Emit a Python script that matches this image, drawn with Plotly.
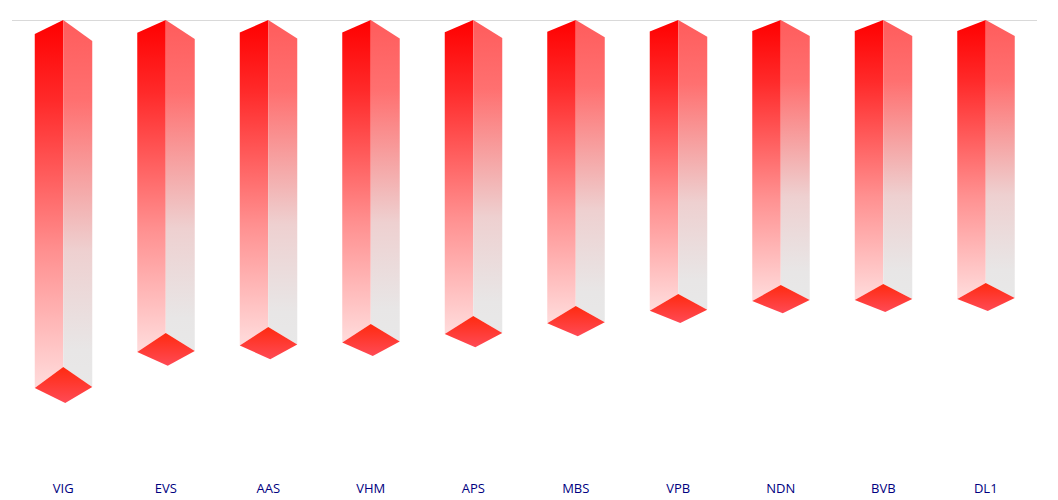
import plotly.graph_objects as go

tickers = ["VIG", "EVS", "AAS", "VHM", "APS", "MBS", "VPB", "NDN", "BVB", "DL1"]
values = [-347, -313, -307, -304, -296, -286, -274, -265, -264, -263]

# axis is 1 unit per pixel in y, so offsets below are in y units
X_UNIT = 102.5
HALF_L = 28.5 / X_UNIT
HALF_R = 29 / X_UNIT
TIP_X = 2 / X_UNIT

# colorscale runs from the low end of the axis (bar bottom) to the top
left_scale = [[0, "#ffdcdc"], [0.37, "#ff9090"], [0.78, "#ff2a2a"], [1, "#ff0000"]]
right_scale = [[0, "#e8e8e8"], [0.1, "#e8e6e6"], [0.37, "#eed0d0"], [0.78, "#ff7070"], [1, "#ff5c5c"]]
floor_scale = [[0, "#ff4a55"], [1, "#ff2a10"]]


def depth(v, small, big):
    # deeper bars are drawn with slightly bigger perspective offsets
    t = (abs(v) - 263) / 84
    return small + (big - small) * t


def face(xs, ys, scale):
    return go.Scatter(
        x=xs, y=ys, mode="lines", fill="toself", line=dict(width=0),
        fillgradient=dict(type="vertical", colorscale=scale),
        hoverinfo="skip", showlegend=False,
    )


fig = go.Figure()
for i, v in enumerate(values):
    top_l, top_r = depth(v, 11, 14), depth(v, 16, 21)
    low_l, low_r = depth(v, 16, 21), depth(v, 15, 20)
    tip = depth(v, 28, 36)
    xl, xr = i - HALF_L, i + HALF_R
    fig.add_trace(face([i, xl, xl, i, i], [0, -top_l, v - low_l, v, 0], left_scale))
    fig.add_trace(face([i, xr, xr, i, i], [0, -top_r, v - low_r, v, 0], right_scale))
    fig.add_trace(face([i, xl, i + TIP_X, xr, i], [v, v - low_l, v - tip, v - low_r, v], floor_scale))

# page body adds 8px around the figure
fig.update_layout(
    width=1050, height=492,
    margin=dict(l=4, r=21, t=12, b=30, autoexpand=False),
    paper_bgcolor="white", plot_bgcolor="white",
    showlegend=False,
    xaxis=dict(
        range=[-0.5, 9.5], tickmode="array", tickvals=list(range(len(tickers))), ticktext=tickers,
        showgrid=False, zeroline=False, showline=False, ticks="", ticklabelstandoff=9, automargin=False,
        tickfont=dict(family="Open Sans", size=13, color="#000080"),
    ),
    yaxis=dict(
        range=[-450, 0], showticklabels=False, showgrid=False, ticks="", automargin=False,
        zeroline=True, zerolinecolor="#d9d9d9", zerolinewidth=1,
    ),
)
fig.write_html("out.html")
